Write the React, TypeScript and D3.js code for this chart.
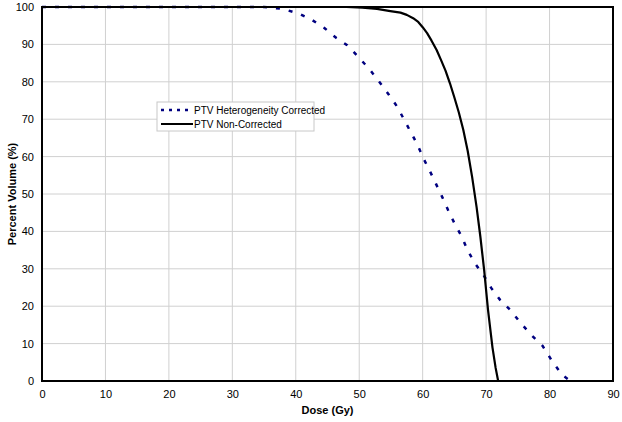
import React, { useRef, useEffect } from "react";
import * as d3 from "d3";

// dose (Gy) / percent volume (%)
const correctedDose = [0, 10, 20, 30, 35, 38, 40.7, 42.6, 44.5, 46.4, 48.1, 50, 51.7, 53.3, 54.7, 56, 57.1, 58.2, 59.2, 60.1, 61.2, 62.1, 63, 64, 65, 66.1, 67, 68.1, 69.6, 70.8, 72.2, 73.8, 75.6, 77.3, 78.9, 80.3, 82, 83.3];
const correctedVol = [100, 100, 100, 100, 100, 99.5, 98.1, 96.5, 94.4, 91.7, 89.8, 86.4, 83.2, 79.7, 76.5, 73.3, 69.8, 66.3, 63.1, 59.6, 55.9, 52.7, 49.5, 45.7, 42.2, 38.8, 35.3, 31.8, 28.3, 24.9, 21.7, 19, 15.2, 12, 9.4, 5.6, 1.6, 0];
const plainDose = [0, 10, 20, 30, 40, 48, 50.5, 52.8, 54.9, 56.5, 57.5, 58.5, 59.3, 60, 60.7, 61.4, 62.2, 62.9, 63.6, 64.3, 65, 65.7, 66.4, 67.1, 67.8, 68.5, 69.1, 69.7, 70.3, 71, 71.5, 71.9, 75, 80, 83.3];
const plainVol = [100, 100, 100, 100, 100, 100, 99.8, 99.5, 98.9, 98.5, 97.9, 97, 96, 94.6, 93, 91, 88.5, 85.8, 83, 79.6, 75.8, 71.8, 67.2, 61.5, 54.5, 46.5, 38.5, 29.5, 19, 9, 3.5, 0, 0, 0, 0];
const xTicks = [0, 10, 20, 30, 40, 50, 60, 70, 80, 90];
const yTicks = [0, 10, 20, 30, 40, 50, 60, 70, 80, 90, 100];
const seriesNames = ["PTV Heterogeneity Corrected", "PTV Non-Corrected"];

export default function App() {
  const ref = useRef<SVGSVGElement>(null);

  useEffect(() => {
    const svg = d3.select(ref.current);
    svg.selectAll("*").remove();
    const font = "Liberation Sans, Arial, sans-serif";

    const x = d3.scaleLinear().domain([0, 90]).range([42, 613]);
    const y = d3.scaleLinear().domain([0, 100]).range([381, 7]);

    svg.append("rect").attr("width", 622).attr("height", 422).attr("fill", "#fff");

    const grid = svg.append("g").attr("stroke", "#d0d0d0").attr("stroke-width", 1);
    xTicks.slice(1, -1).forEach(t => {
      grid.append("line").attr("x1", x(t)).attr("x2", x(t)).attr("y1", y(0)).attr("y2", y(100));
    });
    yTicks.slice(1, -1).forEach(t => {
      grid.append("line").attr("x1", x(0)).attr("x2", x(90)).attr("y1", y(t)).attr("y2", y(t));
    });

    const line = d3.line<[number, number]>().x(d => x(d[0])).y(d => y(d[1]));

    svg.append("path")
      .attr("d", line(correctedDose.map((d, i) => [d, correctedVol[i]]) as [number, number][]))
      .attr("fill", "none")
      .attr("stroke", "#000080")
      .attr("stroke-width", 2.5)
      .attr("stroke-dasharray", "4,9");

    svg.append("path")
      .attr("d", line(plainDose.map((d, i) => [d, plainVol[i]]) as [number, number][]))
      .attr("fill", "none")
      .attr("stroke", "#000")
      .attr("stroke-width", 2.2)
      .attr("stroke-linejoin", "round");

    svg.append("rect")
      .attr("x", x(0)).attr("y", y(100))
      .attr("width", x(90) - x(0)).attr("height", y(0) - y(100))
      .attr("fill", "none").attr("stroke", "#000").attr("stroke-width", 2);

    const xAxis = svg.append("g").attr("transform", `translate(0,${y(0)})`)
      .call(d3.axisBottom(x).tickValues(xTicks).tickSize(0).tickPadding(9));
    xAxis.select(".domain").remove();
    xAxis.selectAll("text").attr("font-family", font).attr("font-size", 11).attr("fill", "#000");

    const yAxis = svg.append("g").attr("transform", `translate(${x(0)},0)`)
      .call(d3.axisLeft(y).tickValues(yTicks).tickSize(0).tickPadding(8));
    yAxis.select(".domain").remove();
    yAxis.selectAll("text").attr("font-family", font).attr("font-size", 11).attr("fill", "#000");

    svg.append("text").attr("x", (x(0) + x(90)) / 2).attr("y", 414)
      .attr("text-anchor", "middle").attr("font-family", font).attr("font-size", 11)
      .attr("font-weight", "bold").text("Dose (Gy)");
    svg.append("text").attr("transform", `translate(16,${(y(0) + y(100)) / 2}) rotate(-90)`)
      .attr("text-anchor", "middle").attr("font-family", font).attr("font-size", 11)
      .attr("font-weight", "bold").text("Percent Volume (%)");

    const lg = svg.append("g").attr("transform", "translate(157,102)");
    lg.append("rect").attr("width", 157).attr("height", 29)
      .attr("fill", "#fff").attr("stroke", "#c8c8c8").attr("stroke-width", 1);
    lg.append("line").attr("x1", 4).attr("x2", 36).attr("y1", 8).attr("y2", 8)
      .attr("stroke", "#000080").attr("stroke-width", 2.5).attr("stroke-dasharray", "3,5");
    lg.append("line").attr("x1", 4).attr("x2", 36).attr("y1", 22).attr("y2", 22)
      .attr("stroke", "#000").attr("stroke-width", 2);
    seriesNames.forEach((n, i) => {
      lg.append("text").attr("x", 37).attr("y", 12 + i * 14)
        .attr("font-family", font).attr("font-size", 10).text(n);
    });
  }, []);

  return <svg ref={ref} width={622} height={422} style={{ position: "absolute", left: 0, top: 0 }} />;
}
